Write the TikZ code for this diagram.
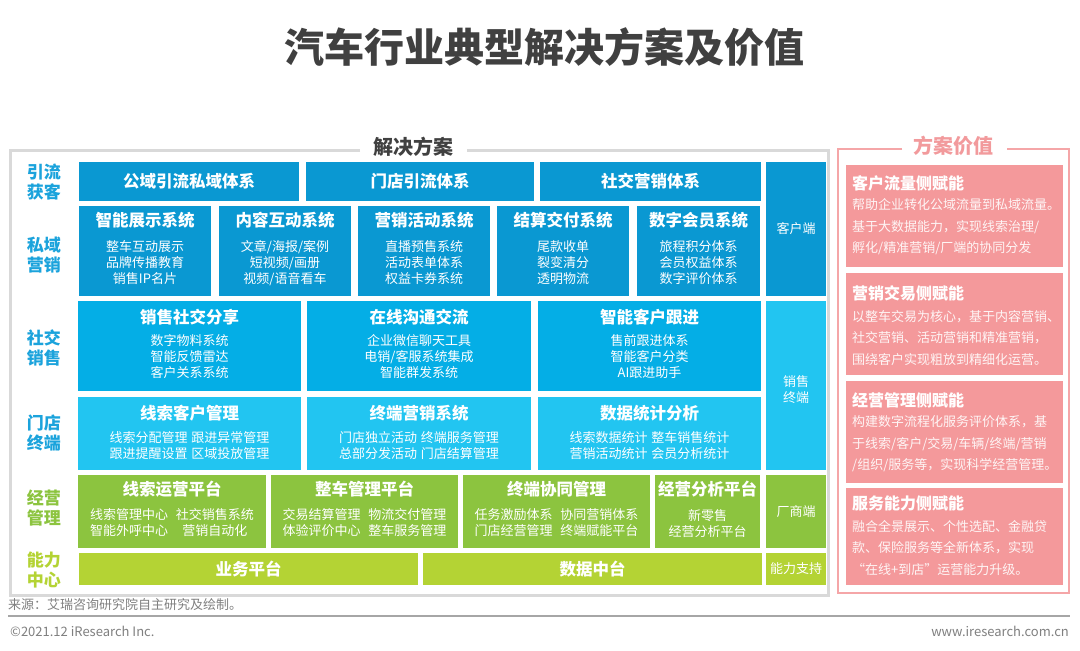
\documentclass[tikz,border=0pt]{standalone}
\usepackage{fontspec}
\setmainfont{Noto Sans CJK SC}
\definecolor{dblue}{HTML}{0A98D2}
\definecolor{mblue}{HTML}{04AEE6}
\definecolor{lblue}{HTML}{22C5F1}
\definecolor{lbl}{HTML}{1BA3DC}
\definecolor{grn}{HTML}{8CC43F}
\definecolor{ygrn}{HTML}{B4D334}
\definecolor{pk}{HTML}{F4999B}
\definecolor{pkline}{HTML}{F5A6A8}
\definecolor{pktxt}{HTML}{F29A9C}
\definecolor{gframe}{HTML}{D9D9D9}
\definecolor{ttlgray}{HTML}{404040}
\definecolor{foot}{HTML}{808080}
\definecolor{footline}{HTML}{A6A6A6}
\newcommand\mkbox[6]{\node[blk,fill=#6,minimum width={(#4-#2)*1pt},minimum height={(#5-#3)*1pt}] (#1) at ({(#2+#4)/2},{(#3+#5)/2}) {};}
\tikzset{
  blk/.style={inner sep=0pt, outer sep=0pt, draw=none},
  ttl/.style={text=white, font=\fontsize{16.5}{20}\selectfont\bfseries, inner sep=0pt},
  sub/.style={text=white, font=\fontsize{13}{16}\selectfont, align=center, inner sep=0pt},
  subt/.style={text=white, font=\fontsize{13}{16}\selectfont, inner sep=0pt},
  side/.style={font=\fontsize{17}{20}\selectfont\bfseries, align=center, inner sep=0pt},
  coltxt/.style={text=white, font=\fontsize{13}{16}\selectfont, align=center, inner sep=0pt},
  vt/.style={text=white, font=\fontsize{16}{20}\selectfont\bfseries, inner sep=0pt, anchor=west},
  vb/.style={text=white!90!pk, font=\fontsize{13}{21.6}\selectfont, align=left, inner sep=0pt, anchor=west},
  frame/.style={line width=3pt, gframe},
  pframe/.style={line width=2.5pt, pkline},
  foottxt/.style={text=foot, font=\fontsize{13}{16}\selectfont, inner sep=0pt}
}
\begin{document}
\begin{tikzpicture}[x=1pt,y=-1pt]
\useasboundingbox[fill=white] (0,0) rectangle (1080,651);
% title
\node[text=ttlgray, font=\fontsize{40}{44}\selectfont\bfseries, inner sep=0pt] (title) at (544,47) {汽车行业典型解决方案及价值};
% solution frame
\node[text=ttlgray, font=\fontsize{20}{24}\selectfont\bfseries, inner sep=0pt] (jjfa) at (413,147) {解决方案};
\draw[frame] (360,150) -- (10,150) -- (10,595) -- (828,595) -- (828,150) -- (467,150);
% side labels
\node[side, text=lbl] (l1) at (44,182) {引流\\获客};
\node[side, text=lbl] (l2) at (44,255) {私域\\营销};
\node[side, text=lbl] (l3) at (44,348) {社交\\销售};
\node[side, text=lbl] (l4) at (44,433) {门店\\终端};
\node[side, text=grn] (l5) at (44,508) {经营\\管理};
\node[side, text=ygrn] (l6) at (44,570) {能力\\中心};
% row 1
\mkbox{r1a}{79}{162}{299}{201}{dblue}
\mkbox{r1b}{306}{162}{534}{201}{dblue}
\mkbox{r1c}{540}{162}{761}{201}{dblue}
\node[ttl] (r1a-t) at (r1a) {公域引流私域体系};
\node[ttl] (r1b-t) at (r1b) {门店引流体系};
\node[ttl] (r1c-t) at (r1c) {社交营销体系};
\mkbox{kh}{766}{162}{826}{296}{dblue}
\node[coltxt] (kh-t) at (kh) {客户端};
% row 2
\mkbox{r2a}{79}{206}{211}{296}{dblue}
\mkbox{r2b}{219}{206}{351}{296}{dblue}
\mkbox{r2c}{358}{206}{490}{296}{dblue}
\mkbox{r2d}{497}{206}{629}{296}{dblue}
\mkbox{r2e}{637}{206}{760}{296}{dblue}
\node[ttl] (r2a-t) at (145,220) {智能展示系统};
\node[ttl] (r2b-t) at (285,220) {内容互动系统};
\node[ttl] (r2c-t) at (424,220) {营销活动系统};
\node[ttl] (r2d-t) at (563,220) {结算交付系统};
\node[ttl] (r2e-t) at (698.5,220) {数字会员系统};
\node[sub] (r2a-s) at (145,263) {整车互动展示\\品牌传播教育\\销售IP名片};
\node[sub] (r2b-s) at (285,263) {文章/海报/案例\\短视频/画册\\视频/语音看车};
\node[sub] (r2c-s) at (424,263) {直播预售系统\\活动表单体系\\权益卡券系统};
\node[sub] (r2d-s) at (563,263) {尾款收单\\裂变清分\\透明物流};
\node[sub] (r2e-s) at (698.5,263) {旅程积分体系\\会员权益体系\\数字评价体系};
% row 3
\mkbox{r3a}{78}{301}{301}{391}{mblue}
\mkbox{r3b}{307}{301}{531}{391}{mblue}
\mkbox{r3c}{538}{301}{761}{391}{mblue}
\node[ttl] (r3a-t) at (189.5,317) {销售社交分享};
\node[ttl] (r3b-t) at (419,317) {在线沟通交流};
\node[ttl] (r3c-t) at (649.5,317) {智能客户跟进};
\node[sub] (r3a-s) at (189.5,357) {数字物料系统\\智能反馈雷达\\客户关系系统};
\node[sub] (r3b-s) at (419,357) {企业微信聊天工具\\电销/客服系统集成\\智能群发系统};
\node[sub] (r3c-s) at (649.5,357) {售前跟进体系\\智能客户分类\\AI跟进助手};
\mkbox{xs}{766}{301}{826}{470}{lblue}
\node[coltxt] (xs-t) at (796,390) {销售\\终端};
% row 4
\mkbox{r4a}{78}{397}{301}{470}{lblue}
\mkbox{r4b}{307}{397}{531}{470}{lblue}
\mkbox{r4c}{538}{397}{761}{470}{lblue}
\node[ttl] (r4a-t) at (189.5,413) {线索客户管理};
\node[ttl] (r4b-t) at (419,413) {终端营销系统};
\node[ttl] (r4c-t) at (649.5,413) {数据统计分析};
\node[sub] (r4a-s) at (189.5,446) {线索分配管理\hspace{4pt}跟进异常管理\\跟进提醒设置\hspace{4pt}区域投放管理};
\node[sub] (r4b-s) at (419,446) {门店独立活动\hspace{4pt}终端服务管理\\总部分发活动\hspace{4pt}门店结算管理};
\node[sub] (r4c-s) at (649.5,446) {线索数据统计\hspace{4pt}整车销售统计\\营销活动统计\hspace{4pt}会员分析统计};
% row 5
\mkbox{r5a}{78}{475}{266}{548}{grn}
\mkbox{r5b}{271}{475}{458}{548}{grn}
\mkbox{r5c}{463}{475}{650}{548}{grn}
\mkbox{r5d}{655}{475}{760}{548}{grn}
\mkbox{cs}{766}{475}{826}{548}{grn}
\node[ttl] (r5a-t) at (172,489) {线索运营平台};
\node[ttl] (r5b-t) at (364.5,489) {整车管理平台};
\node[ttl] (r5c-t) at (556.5,489) {终端协同管理};
\node[ttl] (r5d-t) at (707.5,489) {经营分析平台};
\node[subt] (r5a-s) at (172,524) {\begin{tabular}{@{}c@{\hspace{8pt}}c@{}}线索管理中心&社交销售系统\\智能外呼中心&营销自动化\end{tabular}};
\node[subt] (r5b-s) at (364.5,524) {\begin{tabular}{@{}c@{\hspace{8pt}}c@{}}交易结算管理&物流交付管理\\体验评价中心&整车服务管理\end{tabular}};
\node[subt] (r5c-s) at (556.5,524) {\begin{tabular}{@{}c@{\hspace{8pt}}c@{}}任务激励体系&协同营销体系\\门店经营管理&终端赋能平台\end{tabular}};
\node[sub] (r5d-s) at (707.5,524) {新零售\\经营分析平台};
\node[coltxt] (cs-t) at (cs) {厂商端};
% row 6
\mkbox{r6a}{79}{553}{418}{585}{ygrn}
\mkbox{r6b}{423}{553}{762}{585}{ygrn}
\mkbox{r6c}{766}{553}{826}{585}{ygrn}
\node[ttl] (r6a-t) at (r6a) {业务平台};
\node[ttl] (r6b-t) at (r6b) {数据中台};
\node[coltxt] (r6c-t) at (r6c) {能力支持};
% value panel
\node[text=pktxt, font=\fontsize{20}{24}\selectfont\bfseries, inner sep=0pt] (fajz) at (953,146) {方案价值};
\draw[pframe] (902,149) -- (838,149) -- (838,593) -- (1069,593) -- (1069,149) -- (1007,149);
\mkbox{pb1}{846}{165}{1063}{267}{pk}
\mkbox{pb2}{846}{273}{1063}{375}{pk}
\mkbox{pb3}{846}{381}{1063}{483}{pk}
\mkbox{pb4}{846}{488}{1063}{585}{pk}
\node[vt] (pb1-t) at (852,183) {客户流量侧赋能};
\node[vb] (pb1-b) at (852,227) {帮助企业转化公域流量到私域流量。\\基于大数据能力，实现线索治理/\\孵化/精准营销/厂端的协同分发};
\node[vt] (pb2-t) at (852,293) {营销交易侧赋能};
\node[vb] (pb2-b) at (852,338) {以整车交易为核心，基于内容营销、\\社交营销、活动营销和精准营销，\\围绕客户实现粗放到精细化运营。};
\node[vt] (pb3-t) at (852,400) {经营管理侧赋能};
\node[vb] (pb3-b) at (852,444) {构建数字流程化服务评价体系，基\\于线索/客户/交易/车辆/终端/营销\\/组织/服务等，实现科学经营管理。};
\node[vt] (pb4-t) at (852,503) {服务能力侧赋能};
\node[vb] (pb4-b) at (852,548) {融合全景展示、个性选配、金融贷\\款、保险服务等全新体系，实现\\“在线+到店”运营能力升级。};
% footer
\node[foottxt, anchor=west] (src) at (8,605) {来源：艾瑞咨询研究院自主研究及绘制。};
\coordinate (fl1) at (8,616);
\coordinate (fl2) at (1070,616);
\draw[footline, line width=1.2pt] (fl1) -- (fl2);
\node[foottxt, anchor=west] (copy) at (10,631) {©2021.12 iResearch Inc.};
\node[foottxt, anchor=east] (web) at (1069,631) {www.iresearch.com.cn};
\end{tikzpicture}
\end{document}
